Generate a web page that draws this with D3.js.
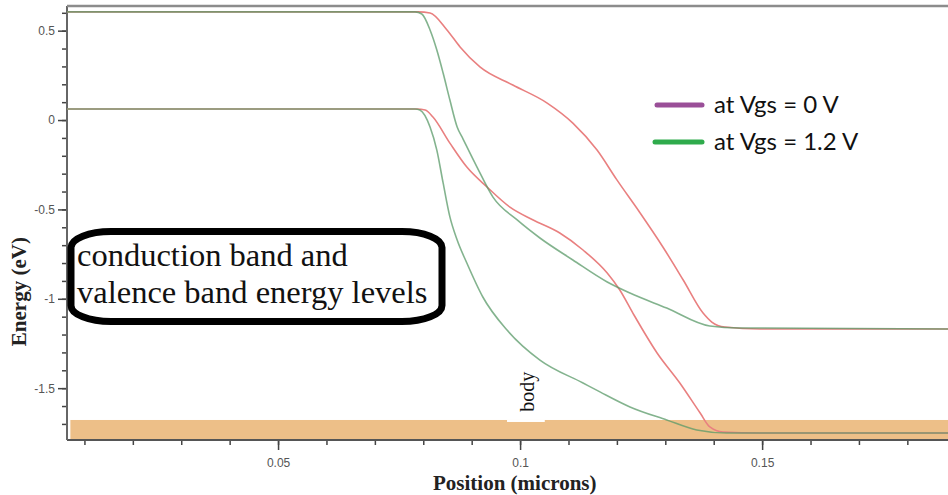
<!DOCTYPE html>
<html>
<head>
<meta charset="utf-8">
<script src="https://cdn.jsdelivr.net/npm/d3@7"></script>
<style>
  body { margin: 0; background: #fff; }
  svg { display: block; }
</style>
</head>
<body>
<svg id="chart" width="948" height="495"></svg>
<script>
const width = 948;
const height = 495;
const margin = { top: 6, right: 0, bottom: 55, left: 67 };

// [position (microns), energy (eV)]
const cbVgs0 = [
  [0.0064, 0.605], [0.0790, 0.605], [0.0814, 0.599], [0.0849, 0.504], [0.0876, 0.409],
  [0.0917, 0.297], [0.0985, 0.196], [0.1056, 0.095], [0.1109, -0.017], [0.1159, -0.168],
  [0.1200, -0.335], [0.1248, -0.520], [0.1295, -0.710], [0.1337, -0.895], [0.1378, -1.080],
  [0.1396, -1.130], [0.1423, -1.158], [0.1496, -1.169], [0.1884, -1.169]
];
const vbVgs0 = [
  [0.0064, 0.062], [0.0787, 0.062], [0.0804, 0.056], [0.0820, 0.017], [0.0855, -0.129],
  [0.0890, -0.263], [0.0932, -0.375], [0.0979, -0.487], [0.1027, -0.559], [0.1082, -0.632],
  [0.1130, -0.727], [0.1180, -0.856], [0.1206, -0.951], [0.1233, -1.080], [0.1283, -1.303],
  [0.1330, -1.471], [0.1372, -1.639], [0.1392, -1.717], [0.1419, -1.745], [0.1496, -1.751],
  [0.1884, -1.751]
];
const cbVgs12 = [
  [0.0064, 0.605], [0.0783, 0.605], [0.0797, 0.593], [0.0814, 0.504], [0.0828, 0.392],
  [0.0841, 0.263], [0.0855, 0.112], [0.0870, -0.039], [0.0882, -0.105], [0.0911, -0.263],
  [0.0944, -0.431], [0.0994, -0.559], [0.1041, -0.660], [0.1109, -0.783], [0.1180, -0.906],
  [0.1227, -0.968], [0.1303, -1.052], [0.1392, -1.152], [0.1454, -1.163], [0.1884, -1.169]
];
const vbVgs12 = [
  [0.0064, 0.062], [0.0783, 0.062], [0.0793, 0.056], [0.0814, -0.039], [0.0828, -0.168],
  [0.0841, -0.352], [0.0855, -0.542], [0.0870, -0.671], [0.0890, -0.800], [0.0923, -0.990],
  [0.0973, -1.175], [0.1041, -1.343], [0.1130, -1.471], [0.1165, -1.521], [0.1227, -1.605],
  [0.1303, -1.678], [0.1365, -1.734], [0.1427, -1.751], [0.1884, -1.751]
];

const xDomain = [0.0064, 0.1884];
const yDomain = [-1.79, 0.638];
const xMajorTicks = [0.05, 0.1, 0.15];
const xTickLabels = ["0.05", "0.1", "0.15"];
const xMinorTicks = d3.range(1, 19).map(d => d / 100);
const yMajorTicks = [0.5, 0, -0.5, -1, -1.5];
const yTickLabels = ["0.5", "0", "-0.5", "-1", "-1.5"];
const yMinorTicks = d3.range(-17, 7).map(d => d / 10);

const bodyBandEnergy = [-1.678, -1.79];
const bodyBandPosition = [0.0071, 0.1884];
const bodyGapPosition = [0.0973, 0.1051];

const legendLabels = ["at Vgs = 0 V", "at Vgs = 1.2 V"];
const legendColors = ["#9a4f98", "#2fab4c"];
const calloutLines = ["conduction band and", "valence band energy levels"];

const svg = d3.select("#chart");

let x = d3.scaleLinear().domain(xDomain).range([margin.left, width - margin.right]);
let y = d3.scaleLinear().domain(yDomain).range([height - margin.bottom, margin.top]);

// body region
svg.append("rect")
  .attr("x", x(bodyBandPosition[0]))
  .attr("y", y(bodyBandEnergy[0]))
  .attr("width", x(bodyBandPosition[1]) - x(bodyBandPosition[0]))
  .attr("height", y(bodyBandEnergy[1]) - y(bodyBandEnergy[0]))
  .attr("fill", "#edbf88");
svg.append("rect")
  .attr("x", x(bodyGapPosition[0]))
  .attr("y", y(bodyBandEnergy[0]))
  .attr("width", x(bodyGapPosition[1]) - x(bodyGapPosition[0]))
  .attr("height", 2)
  .attr("fill", "#fff");

// axes
let xMinor = d3.axisBottom(x).tickValues(xMinorTicks).tickSize(5).tickFormat("");
let xMajor = d3.axisBottom(x).tickValues(xMajorTicks).tickSize(10)
  .tickFormat((d, i) => xTickLabels[i]);
let yMinor = d3.axisLeft(y).tickValues(yMinorTicks).tickSize(5).tickFormat("");
let yMajor = d3.axisLeft(y).tickValues(yMajorTicks).tickSize(9)
  .tickFormat((d, i) => yTickLabels[i]);

function styleAxis(g) {
  g.select(".domain").remove();
  g.selectAll(".tick line").attr("stroke", "#444").attr("stroke-width", 1.5);
  g.selectAll(".tick text")
    .attr("fill", "#555")
    .style("font-family", "Liberation Sans, Arial, sans-serif")
    .style("font-size", "12px");
}

svg.append("g").attr("transform", `translate(0,${y(yDomain[0])})`).call(xMinor).call(styleAxis);
svg.append("g").attr("transform", `translate(0,${y(yDomain[0])})`).call(xMajor).call(styleAxis)
  .selectAll(".tick text").attr("dy", "1.15em");
svg.append("g").attr("transform", `translate(${x(xDomain[0])},0)`).call(yMinor).call(styleAxis);
svg.append("g").attr("transform", `translate(${x(xDomain[0])},0)`).call(yMajor).call(styleAxis)
  .selectAll(".tick text").attr("x", -12);

svg.append("line")
  .attr("x1", x(xDomain[0])).attr("x2", x(xDomain[1]))
  .attr("y1", y(yDomain[0])).attr("y2", y(yDomain[0]))
  .attr("stroke", "#555").attr("stroke-width", 2);
svg.append("line")
  .attr("x1", x(xDomain[0])).attr("x2", x(xDomain[0]))
  .attr("y1", y(yDomain[0])).attr("y2", y(yDomain[1]))
  .attr("stroke", "#666").attr("stroke-width", 2);
svg.append("line")
  .attr("x1", x(xDomain[0])).attr("x2", x(xDomain[1]))
  .attr("y1", y(yDomain[1])).attr("y2", y(yDomain[1]))
  .attr("stroke", "#8c8c8c").attr("stroke-width", 2.5);

// band curves
let lineGenerator = d3.line()
  .x(d => x(d[0]))
  .y(d => y(d[1]))
  .curve(d3.curveMonotoneX);

[cbVgs0, vbVgs0].forEach(series => {
  svg.append("path")
    .attr("d", lineGenerator(series))
    .attr("fill", "none")
    .attr("stroke", "#e98080")
    .attr("stroke-width", 1.6);
});
[cbVgs12, vbVgs12].forEach(series => {
  svg.append("path")
    .attr("d", lineGenerator(series))
    .attr("fill", "none")
    .attr("stroke", "#5a9a68")
    .attr("stroke-opacity", 0.75)
    .attr("stroke-width", 1.6);
});

// body label
svg.append("text")
  .attr("transform", `translate(${x(0.1015)},${y(-1.52)}) rotate(-90)`)
  .attr("text-anchor", "middle")
  .attr("dominant-baseline", "central")
  .style("font-family", "Liberation Serif, Times New Roman, serif")
  .style("font-size", "20px")
  .attr("fill", "#111")
  .text("body");

// callout
svg.append("rect")
  .attr("x", 71).attr("y", 231.5)
  .attr("width", 371).attr("height", 90)
  .attr("rx", 40).attr("ry", 16)
  .attr("fill", "#fff")
  .attr("stroke", "#000")
  .attr("stroke-width", 7);
svg.append("g").selectAll("text")
  .data(calloutLines)
  .join("text")
  .attr("x", 77)
  .attr("y", (d, i) => 266 + i * 37)
  .style("font-family", "Liberation Serif, Times New Roman, serif")
  .style("font-size", "32.5px")
  .attr("fill", "#111")
  .text(d => d);

// legend
let legend = svg.append("g").attr("transform", "translate(657,105)");
legend.selectAll("line")
  .data(legendColors)
  .join("line")
  .attr("x1", (d, i) => i === 0 ? 0 : -2)
  .attr("x2", 45)
  .attr("y1", (d, i) => i * 37)
  .attr("y2", (d, i) => i * 37)
  .attr("stroke", d => d)
  .attr("stroke-width", 5)
  .attr("stroke-linecap", "round");
legend.selectAll("text")
  .data(legendLabels)
  .join("text")
  .attr("x", 57)
  .attr("y", (d, i) => i * 37 + 8)
  .style("font-family", "Lato, Liberation Sans, sans-serif")
  .style("font-size", "24px")
  .attr("fill", "#111")
  .text(d => d);

// axis titles
svg.append("text")
  .attr("transform", `translate(26,${y(-0.96)}) rotate(-90)`)
  .attr("text-anchor", "middle")
  .style("font-family", "Liberation Serif, Times New Roman, serif")
  .style("font-weight", "bold")
  .style("font-size", "21px")
  .attr("fill", "#222")
  .text("Energy (eV)");
svg.append("text")
  .attr("x", x(0.0989))
  .attr("y", 490)
  .attr("text-anchor", "middle")
  .style("font-family", "Liberation Serif, Times New Roman, serif")
  .style("font-weight", "bold")
  .style("font-size", "21px")
  .attr("fill", "#222")
  .text("Position (microns)");
</script>
</body>
</html>
